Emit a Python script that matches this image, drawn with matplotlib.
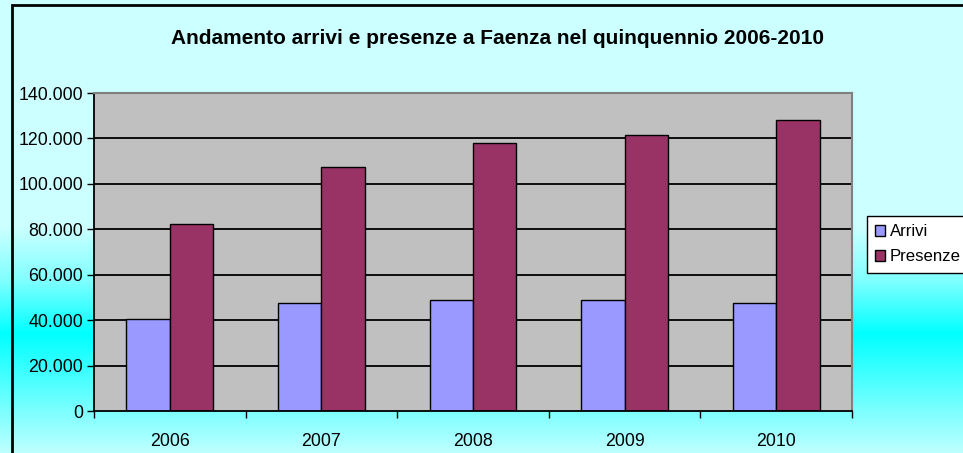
import numpy as np
import matplotlib
matplotlib.use("Agg")
import matplotlib.pyplot as plt
from matplotlib.patches import Rectangle

plt.rcParams['font.family'] = ['Liberation Sans', 'DejaVu Sans']

# data
anni = ['2006', '2007', '2008', '2009', '2010']
arrivi = [40600, 47500, 48650, 48650, 47500]
presenze = [82300, 107600, 118200, 121300, 128100]
y_ticks = [0, 20000, 40000, 60000, 80000, 100000, 120000, 140000]

W, H = 963, 453
fig = plt.figure(figsize=(W / 100, H / 100), dpi=100)

# background gradient (light cyan -> cyan band -> light cyan)
bg = fig.add_axes([0, 0, 1, 1], zorder=-10)
rows = np.arange(H)
red = np.interp(rows, [0, 226, 280, 333, 453], [204, 204, 128, 0, 192]) / 255.0
img = np.ones((H, 1, 3))
img[:, 0, 0] = red
bg.imshow(img, aspect='auto', extent=[0, 1, 0, 1], origin='upper')
bg.set_axis_off()

# outer chart border
fig.add_artist(Rectangle((12 / W, -0.2), 1.5, (H - 5) / H + 0.2, fill=False,
                         edgecolor='black', lw=2, transform=fig.transFigure))

ax = fig.add_axes([94 / W, (H - 411) / H, (852 - 94) / W, (411 - 93) / H])
ax.set_facecolor('#C0C0C0')

x = np.arange(len(anni))
w = 1 / 3.5
ax.bar(x - w / 2, arrivi, w, color='#9999FF', edgecolor='black', lw=1, zorder=3, label='Arrivi')
ax.bar(x + w / 2, presenze, w, color='#993366', edgecolor='black', lw=1, zorder=3, label='Presenze')

ax.set_xlim(-0.5, len(anni) - 0.5)
ax.set_ylim(0, 140000)
ax.set_yticks(y_ticks)
ax.set_yticklabels([f'{v:,}'.replace(',', '.') for v in y_ticks], fontsize=12.8)
ax.set_xticks(x)
ax.set_xticklabels(anni, fontsize=12.8)
ax.set_xticks(np.arange(-0.5, len(anni)), minor=True)
ax.tick_params(axis='x', which='major', length=0, pad=16)
ax.tick_params(axis='x', which='minor', length=5, width=1, direction='out')
ax.tick_params(axis='y', length=5, width=1, direction='out', pad=3)

for v in y_ticks[1:-1]:
    ax.axhline(v, color='black', lw=1.3, zorder=1)

for s in ['top', 'right']:
    ax.spines[s].set_color('#808080')
    ax.spines[s].set_linewidth(1.5)
for s in ['left', 'bottom']:
    ax.spines[s].set_color('black')
    ax.spines[s].set_linewidth(1.3)
ax.spines['bottom'].set_zorder(4)

fig.text(497 / W, 1 - 38 / H, 'Andamento arrivi e presenze a Faenza nel quinquennio 2006-2010',
         ha='center', va='center', fontsize=15, fontweight='bold')

leg = fig.legend(loc='upper left', bbox_to_anchor=(867 / W, 1 - 216 / H), fontsize=12.1,
                 frameon=True, fancybox=False, edgecolor='black', framealpha=1,
                 handlelength=0.6, handleheight=0.6, handletextpad=0.25,
                 borderpad=0.5, labelspacing=0.6, borderaxespad=0)
leg.get_frame().set_linewidth(1)

fig.savefig('out.png', dpi=100)
